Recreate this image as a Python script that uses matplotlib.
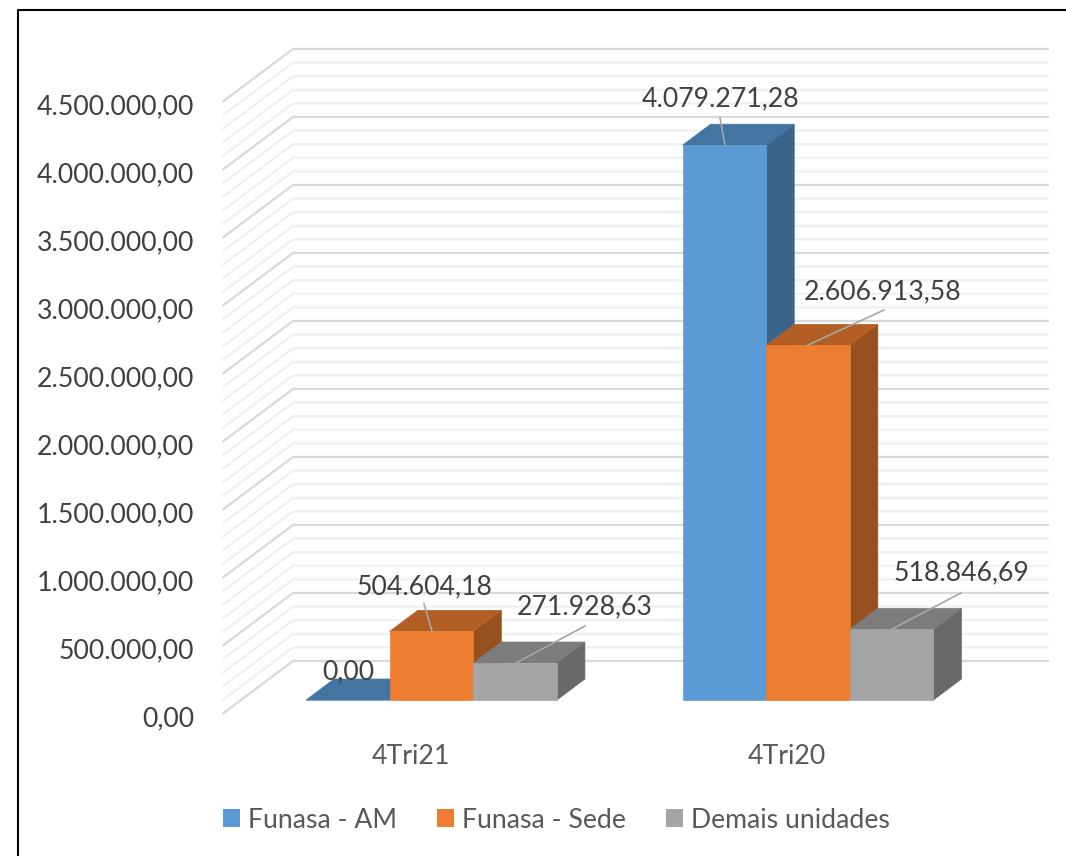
import matplotlib
matplotlib.use("Agg")
import matplotlib.pyplot as plt
from matplotlib.patches import Patch, Polygon, Rectangle

plt.rcParams['font.family'] = ['Lato', 'DejaVu Sans']

categories = ["4Tri21", "4Tri20"]
series_names = ["Funasa - AM", "Funasa - Sede", "Demais unidades"]
am = [0.00, 4079271.28]
sede = [504604.18, 2606913.58]
demais = [271928.63, 518846.69]
am_labels = ["0,00", "4.079.271,28"]
sede_labels = ["504.604,18", "2.606.913,58"]
demais_labels = ["271.928,63", "518.846,69"]
y_ticks = [0, 500000, 1000000, 1500000, 2000000, 2500000, 3000000, 3500000, 4000000, 4500000]
y_labels = ["0,00", "500.000,00", "1.000.000,00", "1.500.000,00", "2.000.000,00",
            "2.500.000,00", "3.000.000,00", "3.500.000,00", "4.000.000,00", "4.500.000,00"]
minor_ticks = [v * 100000 for v in range(0, 46)]

# one category = 376.5 px, 500k = 68 px
px_x = 1 / 376.5
px_y = 500000 / 68

fig = plt.figure(figsize=(10.66, 8.56), dpi=100)
ax = fig.add_axes([0, 0, 1, 1])
ax.set_xlim(-431.5 * px_x, (1066 - 431.5) * px_x)
ax.set_ylim(-(856 - 700) * px_y, 700 * px_y)
ax.axis("off")

# fake 3d: depth goes up and right
dx = 28 * px_x
dy = 21 * px_y
wall_front = -14 / 21
wall_back = 39 / 21
grid_right = (1049 - 431.5) * px_x
wall_x = (293 - 431.5) * px_x

for v in minor_ticks:
    major = v in y_ticks
    color = "#d9d9d9" if major else "#f0f0f0"
    xs = [wall_x + (wall_front - wall_back) * dx, wall_x, grid_right]
    ys = [v + wall_front * dy, v + wall_back * dy, v + wall_back * dy]
    ax.plot(xs, ys, color=color, lw=1.6, zorder=2 if major else 1, solid_capstyle="butt")

bar_w = 83.6 * px_x
colors = [("#5b9bd5", "#4475a0", "#3a6489"),
          ("#ed7d31", "#b25e25", "#975020"),
          ("#a5a5a5", "#7c7c7c", "#696969")]
series = [am, sede, demais]

for c in range(len(categories)):
    for s in range(3):
        x = c + (s - 1.5) * bar_w
        h = series[s][c]
        front, top, side = colors[s]
        z = 5 + s
        ax.add_patch(Polygon([(x + bar_w, 0), (x + bar_w + dx, dy), (x + bar_w + dx, h + dy), (x + bar_w, h)],
                             facecolor=side, edgecolor=side, lw=0.5, zorder=z))
        ax.add_patch(Polygon([(x, h), (x + dx, h + dy), (x + bar_w + dx, h + dy), (x + bar_w, h)],
                             facecolor=top, edgecolor=top, lw=0.5, zorder=z))
        ax.add_patch(Rectangle((x, 0), bar_w, h, facecolor=front, edgecolor=front, lw=0.5, zorder=z))

label_color = "#404040"
axis_color = "#595959"
fs = 19.2


def px(xp, yp):
    return (xp - 431.5) * px_x, (700 - yp) * px_y


# data labels, with leader lines where the chart has them
labels = [(348, 672, am_labels[0]), (424, 587, sede_labels[0]), (585, 607, demais_labels[0]),
          (720, 99, am_labels[1]), (883, 292, sede_labels[1]), (961, 573, demais_labels[1])]
leaders = [((424, 604), (432, 631)), ((585, 626), (516, 663)),
           ((720, 118), (725, 145)), ((884, 310), (808, 345)), ((961, 593), (892, 629))]

for xp, yp, t in labels:
    x, y = px(xp, yp)
    ax.text(x, y, t, fontsize=fs, color=label_color, ha="center", va="center", zorder=20)
for a, b in leaders:
    xa, ya = px(*a)
    xb, yb = px(*b)
    ax.plot([xa, xb], [ya, yb], color="#a6a6a6", lw=1.2, zorder=19)

# value axis labels
for v, t in zip(y_ticks, y_labels):
    ax.text(px(194, 0)[0], v + wall_front * dy - 5 * px_y, t, fontsize=fs, color=label_color,
            ha="right", va="center", zorder=20)

# category labels sit left of the bar groups
for c, t in enumerate(categories):
    ax.text(c - 21 * px_x, px(0, 757)[1], t, fontsize=fs, color=axis_color, ha="center", va="center")

handles = [Patch(facecolor=colors[i][0], linewidth=0, label=series_names[i]) for i in range(3)]
leg = ax.legend(handles=handles, loc="center", bbox_to_anchor=(556 / 1066, 1 - 820 / 856), ncol=3,
                frameon=False, fontsize=fs, labelcolor=axis_color, handlelength=0.64,
                handleheight=0.64, handletextpad=0.3, columnspacing=1.5)

# border of the picture
fig.add_artist(plt.Line2D([18 / 1066, 18 / 1066, 1], [0, 1 - 10 / 856, 1 - 10 / 856], color="black", lw=1.5))

fig.savefig("out.png", dpi=100)
